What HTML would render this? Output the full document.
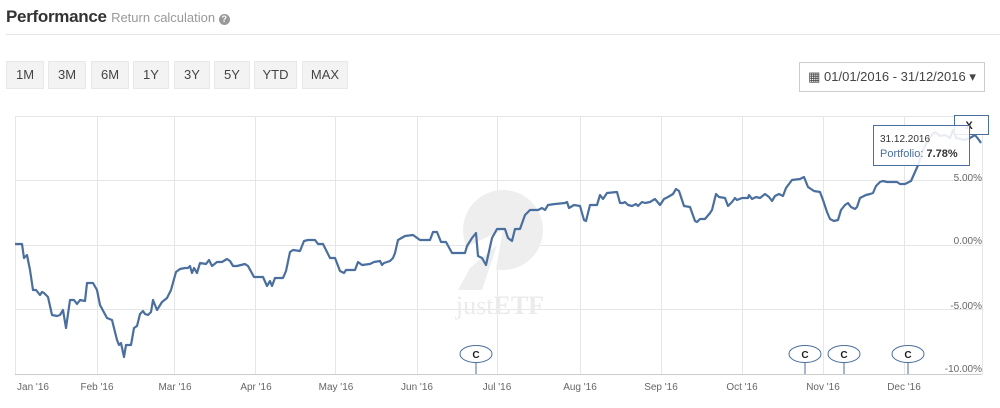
<!DOCTYPE html>
<html><head><meta charset="utf-8"><style>
body{margin:0;width:1000px;height:408px;background:#fff;font-family:"Liberation Sans",sans-serif;position:relative;overflow:hidden}
.t{position:absolute;left:6px;top:7px;font-size:17px;color:#333;font-weight:bold;letter-spacing:-0.3px}
.t span{font-weight:normal;font-size:13px;color:#999;letter-spacing:0}
.sep{position:absolute;left:6px;right:0;top:34px;height:1px;background:#e5e5e5}
.b{position:absolute;top:61px;height:28px;background:#f3f3f3;border:1px solid #e8e8e8;box-sizing:border-box;font-size:13px;color:#444;text-align:center;line-height:26px}
.d{position:absolute;left:799px;top:62px;width:186px;height:30px;border:1px solid #ccc;box-sizing:border-box;font-size:13px;color:#444;line-height:28px;text-align:center}
</style></head><body>
<div class="t">Performance <span>Return calculation <span style="display:inline-block;width:11px;height:11px;border-radius:50%;background:#999;color:#fff;font-size:9px;line-height:11px;text-align:center;font-weight:bold">?</span></span></div>
<div class="sep"></div>
<div class="b" style="left:6px;width:38px">1M</div>
<div class="b" style="left:48px;width:38px">3M</div>
<div class="b" style="left:91px;width:38px">6M</div>
<div class="b" style="left:133px;width:36px">1Y</div>
<div class="b" style="left:174px;width:36px">3Y</div>
<div class="b" style="left:214px;width:36px">5Y</div>
<div class="b" style="left:254px;width:43px">YTD</div>
<div class="b" style="left:302px;width:46px">MAX</div>
<div class="d">▦ 01/01/2016 - 31/12/2016 ▾</div>
<svg width="1000" height="408" style="position:absolute;left:0;top:0" font-family="Liberation Sans, sans-serif">
<g stroke="#e6e6e6" stroke-width="1">
<line x1="15" y1="116.5" x2="982" y2="116.5"/><line x1="15" y1="180.5" x2="982" y2="180.5"/><line x1="15" y1="245.5" x2="982" y2="245.5"/><line x1="15" y1="309.5" x2="982" y2="309.5"/>
<line x1="97.5" y1="116" x2="97.5" y2="374"/><line x1="174.5" y1="116" x2="174.5" y2="374"/><line x1="255.5" y1="116" x2="255.5" y2="374"/><line x1="335.5" y1="116" x2="335.5" y2="374"/><line x1="417.5" y1="116" x2="417.5" y2="374"/><line x1="497.5" y1="116" x2="497.5" y2="374"/><line x1="580.5" y1="116" x2="580.5" y2="374"/><line x1="661.5" y1="116" x2="661.5" y2="374"/><line x1="742.5" y1="116" x2="742.5" y2="374"/><line x1="823.5" y1="116" x2="823.5" y2="374"/><line x1="904.5" y1="116" x2="904.5" y2="374"/><line x1="982.5" y1="116" x2="982.5" y2="374"/>
<line x1="15.5" y1="116" x2="15.5" y2="374"/>
</g>
<line x1="15" y1="374.5" x2="982" y2="374.5" stroke="#ccc"/>
<circle cx="503" cy="230" r="40" fill="#eeeeee"/>
<polygon points="503,230 470,245 455,290 492,290" fill="#fff"/>
<polygon points="497,245 470,268 458,290 482,290" fill="#eeeeee"/>
<text x="500" y="314" font-family="Liberation Serif, serif" font-size="26" fill="#ebebeb" text-anchor="middle">just<tspan font-weight="bold">ETF</tspan></text>
<polyline fill="none" stroke="#4a6f9e" stroke-width="2.2" stroke-linejoin="round" points="15,244 22,244 24,258 27,255 30,270 33,290 36,290 40,295 42,292 44,293 48,297 52,315 57,316 60,315 63,310 66,328 70,300 74,300 77,304 80,300 85,301 87,283 93,283 97,290 100,305 107,318 112,320 117,340 119,345 121,343 124,357 126,345 131,345 134,328 137,326 140,314 143,311 145,314 148,315 151,312 153,300 157,310 162,302 167,298 171,290 176,272 180,269 185,268 188,268 190,266 192,273 194,268 197,273 200,263 206,264 209,260 212,266 217,262 222,262 227,259 230,261 233,266 237,266 245,264 248,266 254,277 258,277 263,277 267,286 270,281 272,286 275,278 283,278 286,271 290,252 293,250 300,251 304,241 308,240 315,240 318,244 323,244 330,258 335,258 340,271 344,273 346,270 355,270 358,262 362,265 370,264 374,262 380,261 382,265 384,263 390,261 393,258 395,253 398,240 405,236 413,235 420,240 430,240 433,232 437,232 441,242 446,242 452,253 460,253 465,253 467,246 472,238 476,233 478,256 482,258 486,265 492,238 497,229 505,229 508,238 512,241 515,229 520,229 525,215 530,210 538,210 542,208 545,210 548,205 555,204 565,203 567,202 569,208 574,205 580,206 584,220 586,221 590,205 597,205 600,195 603,199 607,193 617,192 620,203 623,203 625,202 628,205 632,206 636,204 638,206 642,202 645,203 650,202 655,199 660,205 664,199 668,197 673,194 676,189 679,191 684,206 690,207 695,221 697,222 700,219 705,219 710,213 712,210 716,194 719,197 725,198 728,206 732,202 735,198 737,200 742,198 748,198 749,195 752,199 756,197 760,198 765,194 769,197 772,201 775,196 779,194 783,196 786,188 792,180 800,179 804,177 808,187 814,191 820,192 823,200 827,212 830,219 834,221 838,220 841,210 845,205 848,203 851,207 855,209 857,207 860,198 864,196 866,195 870,194 873,193 876,186 880,182 883,181 887,182 897,182 900,184 905,184 911,181 915,172 919,163 922,152 928,140 930,137 935,132 940,136 945,135 950,138 953,130 956,138 965,140 970,138 975,135 979,140 981,143"/>
<g font-size="10" fill="#666" text-anchor="end">
<text x="982" y="181">5.00%</text><text x="982" y="244">0.00%</text><text x="982" y="309">-5.00%</text><text x="982" y="372">-10.00%</text></g>
<g font-size="10" fill="#666" text-anchor="middle">
<text x="33" y="390">Jan '16</text><text x="97" y="390">Feb '16</text><text x="175" y="390">Mar '16</text><text x="256" y="390">Apr '16</text><text x="336" y="390">May '16</text><text x="417" y="390">Jun '16</text><text x="497" y="390">Jul '16</text><text x="580" y="390">Aug '16</text><text x="661" y="390">Sep '16</text><text x="742" y="390">Oct '16</text><text x="823" y="390">Nov '16</text><text x="904" y="390">Dec '16</text></g>
<g stroke="#4a6f9e" fill="#fff" font-size="10" font-weight="bold">
<line x1="476" y1="362" x2="476" y2="374"/><ellipse cx="476" cy="354" rx="16" ry="8.5"/>
<line x1="805" y1="362" x2="805" y2="374"/><ellipse cx="805" cy="354" rx="16" ry="8.5"/>
<line x1="844" y1="362" x2="844" y2="374"/><ellipse cx="844" cy="354" rx="16" ry="8.5"/>
<line x1="908" y1="362" x2="908" y2="374"/><ellipse cx="908" cy="354" rx="16" ry="8.5"/>
</g>
<g font-size="10" font-weight="bold" fill="#222" text-anchor="middle"><text x="476" y="358">C</text><text x="805" y="358">C</text><text x="844" y="358">C</text><text x="908" y="358">C</text></g>
<rect x="954.5" y="115.5" width="34" height="19" fill="#fff" stroke="#4a6f9e"/>
<text x="969" y="129" font-size="11" font-weight="bold" fill="#222" text-anchor="middle">X</text>
<rect x="873.5" y="125.5" width="96" height="40" fill="rgba(255,255,255,0.88)" stroke="#4a6f9e"/>
<text x="880" y="142" font-size="10" fill="#333">31.12.2016</text>
<text x="880" y="157" font-size="11" fill="#4a6f9e">Portfolio: <tspan font-weight="bold" fill="#333">7.78%</tspan></text>
</svg>
</body></html>
